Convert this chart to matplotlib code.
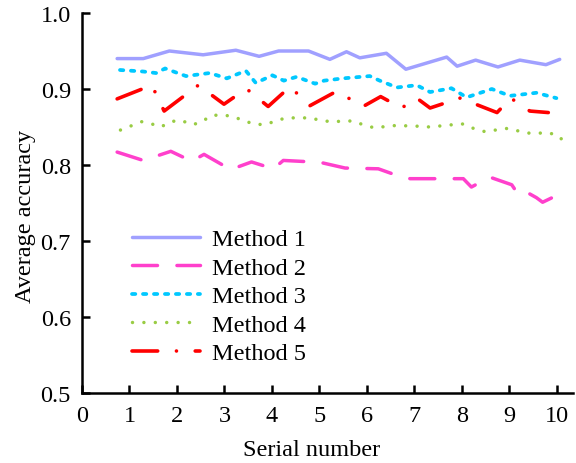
# Average accuracy of five methods against serial number

import matplotlib
matplotlib.use('Agg')
import matplotlib.pyplot as plt

# Data
m1_x = [0.74, 1.29, 1.84, 2.55, 3.24, 3.73, 4.14, 4.77, 5.22, 5.57, 5.85, 6.41, 6.82, 7.68, 7.90, 8.29, 8.76, 9.22, 9.77, 10.06]
m1_y = [0.940, 0.940, 0.950, 0.945, 0.951, 0.943, 0.950, 0.950, 0.939, 0.949, 0.941, 0.947, 0.926, 0.942, 0.930, 0.938, 0.929, 0.938, 0.932, 0.939]

m2_x = [0.74, 1.29, 1.87, 2.31, 2.57, 3.13, 3.57, 4.03, 4.24, 4.87, 5.05, 5.54, 6.24, 6.69, 6.91, 8.03, 8.20, 8.59, 9.05, 9.19, 9.37, 9.57, 9.70, 10.20]
m2_y = [0.817, 0.806, 0.818, 0.805, 0.814, 0.794, 0.804, 0.795, 0.806, 0.804, 0.803, 0.796, 0.795, 0.785, 0.782, 0.782, 0.771, 0.784, 0.774, 0.761, 0.764, 0.757, 0.751, 0.766]

m3_x = [0.80, 1.29, 1.56, 1.75, 2.19, 2.69, 3.05, 3.45, 3.66, 4.01, 4.25, 4.52, 4.91, 5.10, 5.50, 6.06, 6.27, 6.63, 7.05, 7.33, 7.78, 8.10, 8.63, 9.01, 9.57, 9.99]
m3_y = [0.925, 0.923, 0.921, 0.927, 0.917, 0.921, 0.914, 0.924, 0.908, 0.918, 0.911, 0.916, 0.907, 0.911, 0.914, 0.917, 0.911, 0.902, 0.905, 0.896, 0.901, 0.889, 0.900, 0.891, 0.895, 0.888]

m4_x = [0.81, 1.26, 1.47, 1.66, 1.87, 2.08, 2.31, 2.51, 2.71, 2.94, 3.16, 3.61, 3.84, 4.29, 4.76, 5.22,
        5.70, 5.92, 6.15, 6.61, 7.09, 7.33, 7.80, 8.03, 8.25, 8.48, 8.94, 9.41, 9.87, 10.06, 10.29]
m4_y = [0.846, 0.857, 0.854, 0.850, 0.857, 0.859, 0.853, 0.856, 0.865, 0.866, 0.864, 0.854, 0.853, 0.862, 0.862, 0.857,
        0.858, 0.853, 0.849, 0.852, 0.851, 0.850, 0.853, 0.854, 0.848, 0.844, 0.848, 0.842, 0.842, 0.834, 0.838]

m5_x = [0.74, 1.47, 1.73, 2.45, 2.99, 3.22, 3.47, 3.92, 4.38, 4.80, 5.36, 5.92, 6.29, 6.73, 7.05, 7.33, 7.96, 8.74, 9.03, 9.43, 9.82]
m5_y = [0.887, 0.905, 0.871, 0.905, 0.880, 0.890, 0.900, 0.877, 0.903, 0.878, 0.897, 0.877, 0.890, 0.875, 0.888, 0.875, 0.888, 0.869, 0.888, 0.871, 0.869]

labels = ['Method 1', 'Method 2', 'Method 3', 'Method 4', 'Method 5']
x_ticks = list(range(0, 11))
y_ticks = [0.5, 0.6, 0.7, 0.8, 0.9, 1.0]

# Fonts and dash patterns in points
plt.rcParams['font.family'] = ['Liberation Serif', 'DejaVu Serif']
plt.rcParams['lines.scale_dashes'] = False
fs = 17.5

fig = plt.figure(figsize=(5.76, 4.64), dpi=100)
ax = fig.add_axes([82 / 576, 70 / 464, 491 / 576, 380 / 464])

ax.plot(m1_x, m1_y, color='#A0A0FF', lw=2.5, solid_capstyle='round', solid_joinstyle='round', label=labels[0])
ax.plot(m2_x, m2_y, color='#FF40CC', lw=2.5, linestyle=(0, (18, 14)),
        dash_capstyle='round', dash_joinstyle='round', label=labels[1])
ax.plot(m3_x, m3_y, color='#00C8FF', lw=2.7, linestyle=(0, (2.4, 5.5)),
        dash_capstyle='round', dash_joinstyle='round', label=labels[2])
ax.plot(m4_x, m4_y, color='#99CC44', lw=2.5, linestyle=(0, (0.01, 8.2)),
        dash_capstyle='round', label=labels[3])
ax.plot(m5_x, m5_y, color='#FF0000', lw=2.6, linestyle=(0, (18.5, 13.5, 0.01, 13.5)),
        dash_capstyle='round', dash_joinstyle='round', label=labels[4])

# Axes styling
ax.set_xlim(0, 10.34)
ax.set_ylim(0.5, 1.0)
ax.set_xticks(x_ticks)
ax.set_yticks(y_ticks)
ax.set_yticklabels(['%.1f' % v for v in y_ticks])
ax.spines['top'].set_visible(False)
ax.spines['right'].set_visible(False)
for s in ['left', 'bottom']:
    ax.spines[s].set_linewidth(1.8)
ax.tick_params(direction='in', length=6, width=1.8, labelsize=fs)
ax.tick_params(axis='y', pad=8)
ax.tick_params(axis='x', pad=9)

ax.set_xlabel('Serial number', fontsize=fs)
ax.set_ylabel('Average accuracy', fontsize=fs)
ax.xaxis.set_label_coords(0.468, -0.12)
ax.yaxis.set_label_coords(-0.094, 0.466)

ax.legend(loc='upper left', bbox_to_anchor=(132 / 576, (464 - 229) / 464),
          bbox_transform=fig.transFigure, frameon=False, fontsize=fs,
          handlelength=2.8, handletextpad=0.5, labelspacing=0.27,
          borderpad=0, borderaxespad=0)

plt.savefig('out.png', dpi=100)
